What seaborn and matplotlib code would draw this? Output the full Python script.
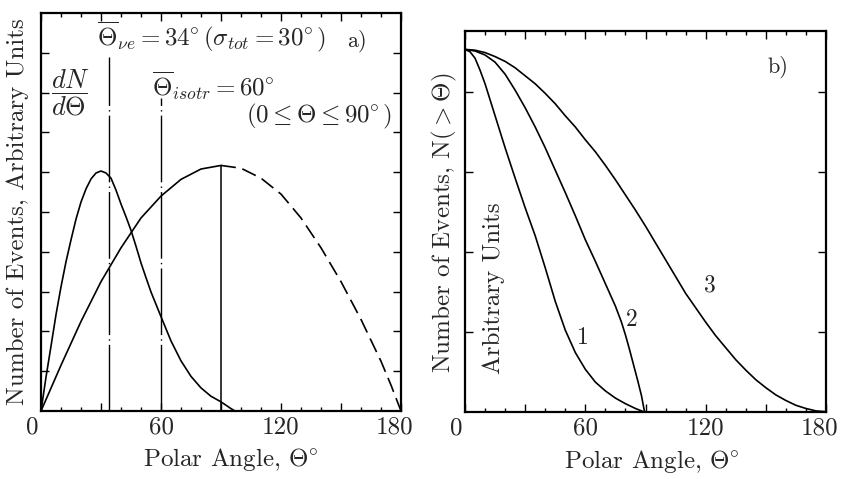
import numpy as np
import pandas as pd
import matplotlib
matplotlib.use("Agg")
import matplotlib.pyplot as plt
import seaborn as sns
from matplotlib.ticker import MultipleLocator, FixedLocator
import matplotlib.transforms as mtransforms

# ---------------- data ----------------
# panel a) : dN/dTheta
theta_nue = [0, 2.5, 5, 7.5, 10, 12.5, 15, 17.5, 20, 22.5, 25, 27.5, 30, 32.5, 35,
             37.5, 40, 42.5, 45, 47.5, 50, 52.5, 55, 57.5, 60, 65, 70, 75, 80, 85,
             90, 95, 97]
dn_nue = [0, 0.85, 1.63, 2.42, 3.12, 3.75, 4.3, 4.82, 5.25, 5.58, 5.83, 5.98, 6.03,
          5.98, 5.85, 5.55, 5.2, 4.88, 4.54, 4.14, 3.72, 3.35, 2.99, 2.68, 2.37,
          1.76, 1.26, 0.87, 0.58, 0.37, 0.23, 0.06, 0]

theta_iso = [0, 10, 20, 30, 40, 50, 60, 70, 80, 90]
dn_iso = [0, 1.15, 2.25, 3.25, 4.1, 4.85, 5.4, 5.82, 6.08, 6.17]

theta_iso_ext = [90, 100, 110, 120, 130, 140, 150, 160, 170, 175, 180]
dn_iso_ext = [6.17, 6.1, 5.85, 5.45, 4.85, 4.1, 3.25, 2.3, 1.25, 0.65, 0]

vline_theta = [34, 60, 90]
vline_top = [8.9, 7.86, 6.17]

# panel b) : N(>Theta)
theta_b1 = [0, 2.5, 5, 7.5, 10, 15, 20, 25, 30, 35, 40, 45, 50, 55, 60, 65, 70,
            75, 80, 85, 89]
n_b1 = [4.53, 4.5, 4.42, 4.27, 4.1, 3.7, 3.3, 2.92, 2.55, 2.2, 1.8, 1.38, 1.02,
        0.74, 0.53, 0.37, 0.26, 0.17, 0.1, 0.04, 0]

theta_b2 = [0, 5, 10, 15, 20, 25, 30, 35, 40, 45, 50, 55, 60, 65, 70, 75, 78,
            80, 82, 84, 86, 88, 89.5]
n_b2 = [4.53, 4.51, 4.46, 4.37, 4.22, 4.02, 3.8, 3.56, 3.3, 3.02, 2.74, 2.45,
        2.15, 1.88, 1.6, 1.32, 1.12, 0.96, 0.78, 0.59, 0.4, 0.2, 0]

theta_b3 = [0, 5, 10, 15, 20, 25, 30, 35, 40, 45, 50, 55, 60, 65, 70, 75, 80, 85,
            90, 95, 100, 105, 110, 115, 120, 125, 130, 135, 140, 145, 150, 155,
            160, 165, 170, 175, 180]
n_b3 = [4.53, 4.52, 4.49, 4.44, 4.38, 4.3, 4.2, 4.1, 3.98, 3.85, 3.7, 3.56, 3.4,
        3.25, 3.08, 2.9, 2.71, 2.52, 2.32, 2.11, 1.9, 1.69, 1.48, 1.3, 1.12, 0.95,
        0.8, 0.65, 0.52, 0.4, 0.3, 0.21, 0.14, 0.08, 0.04, 0.01, 0]

curve_labels = ["1", "2", "3"]
curve_label_pos = [(58.9, 0.92), (83.3, 1.15), (122.2, 1.58)]

xtick_vals = [0, 30, 60, 90, 120, 150, 180]
xtick_text = ["0", "", "60", "", "120", "", "180"]

# ---------------- style ----------------
sns.set_theme(style="ticks")
plt.rcParams["font.family"] = ["cmr10", "DejaVu Serif"]
plt.rcParams["mathtext.fontset"] = "cm"
plt.rcParams["axes.formatter.use_mathtext"] = True
plt.rcParams["axes.unicode_minus"] = False

fig = plt.figure(figsize=(8.42, 4.79), dpi=100)
W, H = 842, 479

def px_axes(x0, y0, x1, y1):
    return fig.add_axes([x0 / W, 1 - y1 / H, (x1 - x0) / W, (y1 - y0) / H])

axA = px_axes(41, 13, 401, 411)
axB = px_axes(465, 31, 826, 411.7)

lw_curve = 1.2
black = "black"
FS = 18

# panel a
sns.lineplot(x=theta_nue, y=dn_nue, ax=axA, color=black, lw=lw_curve, sort=False)
sns.lineplot(x=theta_iso, y=dn_iso, ax=axA, color=black, lw=lw_curve, sort=False)
sns.lineplot(x=theta_iso_ext, y=dn_iso_ext, ax=axA, color=black, lw=lw_curve,
             sort=False, linestyle=(0, (9, 4)))
axA.vlines(vline_theta[0], 0, vline_top[0], color=black, lw=1.0,
           linestyles=[(0, (48, 3, 1, 3))])
axA.vlines(vline_theta[1], 0, vline_top[1], color=black, lw=1.0,
           linestyles=[(0, (48, 3, 1, 3))])
axA.vlines(vline_theta[2], 0, vline_top[2], color=black, lw=1.1)

# panel b
for xs, ys in [(theta_b1, n_b1), (theta_b2, n_b2), (theta_b3, n_b3)]:
    sns.lineplot(x=xs, y=ys, ax=axB, color=black, lw=lw_curve, sort=False)

for lab, (tx, ty) in zip(curve_labels, curve_label_pos):
    axB.text(tx, ty, lab, fontsize=17, ha="center", va="center")

# axes formatting
for ax, ytop, yt in [(axA, 10, np.arange(1, 10)), (axB, 4.76, [1, 2, 3, 4])]:
    ax.set_xlim(0, 180)
    ax.set_ylim(0, ytop)
    ax.xaxis.set_major_locator(FixedLocator(xtick_vals))
    ax.xaxis.set_minor_locator(MultipleLocator(10))
    ax.set_xticklabels(xtick_text, fontsize=FS)
    ax.yaxis.set_major_locator(FixedLocator(yt))
    ax.yaxis.set_minor_locator(FixedLocator([]))
    ax.set_yticklabels([])
    ax.tick_params(which="both", direction="in", top=True, right=True,
                   color=black, width=1.0)
    ax.tick_params(which="major", length=6, pad=4)
    ax.tick_params(which="minor", length=3)
    for sp in ax.spines.values():
        sp.set_linewidth(1.6)
        sp.set_color(black)
    ax.grid(False)
    ax.set_facecolor("white")
    labs = ax.get_xticklabels()
    off0 = mtransforms.ScaledTranslation(-9 / 100, 0, fig.dpi_scale_trans)
    labs[0].set_transform(labs[0].get_transform() + off0)
    off_end = mtransforms.ScaledTranslation(-6 / 100, 0, fig.dpi_scale_trans)
    labs[-1].set_transform(labs[-1].get_transform() + off_end)

axA.set_xlabel(r"Polar Angle, $\Theta\!^\circ$", fontsize=FS)
axA.xaxis.set_label_coords(0.526, -0.123)
axA.xaxis.label.set_va("center")
axA.set_ylabel("Number of Events, Arbitrary Units", fontsize=FS)
axA.yaxis.set_label_coords(-0.064, 0.5)
axA.yaxis.label.set_va("center")

axB.set_xlabel(r"Polar Angle, $\Theta\!^\circ$", fontsize=FS)
axB.xaxis.set_label_coords(0.517, -0.132)
axB.xaxis.label.set_va("center")
axB.set_ylabel(r"Number of Events, N$(>\Theta)$", fontsize=FS)
axB.yaxis.set_label_coords(-0.058, 0.496)
axB.yaxis.label.set_va("center")

# annotations panel a
axA.text(28, 9.4, r"$\overline{\Theta}_{\nu e} = 34\!^\circ(\sigma_{tot} = 30\!^\circ)$",
         fontsize=18, ha="left", va="center")
axA.text(153, 9.3, "a)", fontsize=16, ha="left", va="center")
axA.text(14.5, 7.99, r"$\dfrac{dN}{d\Theta}$", fontsize=19, ha="center", va="center")
axA.text(55.5, 8.17, r"$\overline{\Theta}_{isotr} = 60\!^\circ$", fontsize=18,
         ha="left", va="center")
axA.text(175.5, 7.41, r"$(0 \leq \Theta \leq 90\!^\circ)$", fontsize=18,
         ha="right", va="center")

# annotations panel b
axB.text(151, 4.31, "b)", fontsize=16, ha="left", va="center")
axB.text(14.5, 1.55, "Arbitrary Units", fontsize=FS, rotation=90,
         ha="center", va="center")

fig.savefig("out.png", dpi=100, facecolor="white")
